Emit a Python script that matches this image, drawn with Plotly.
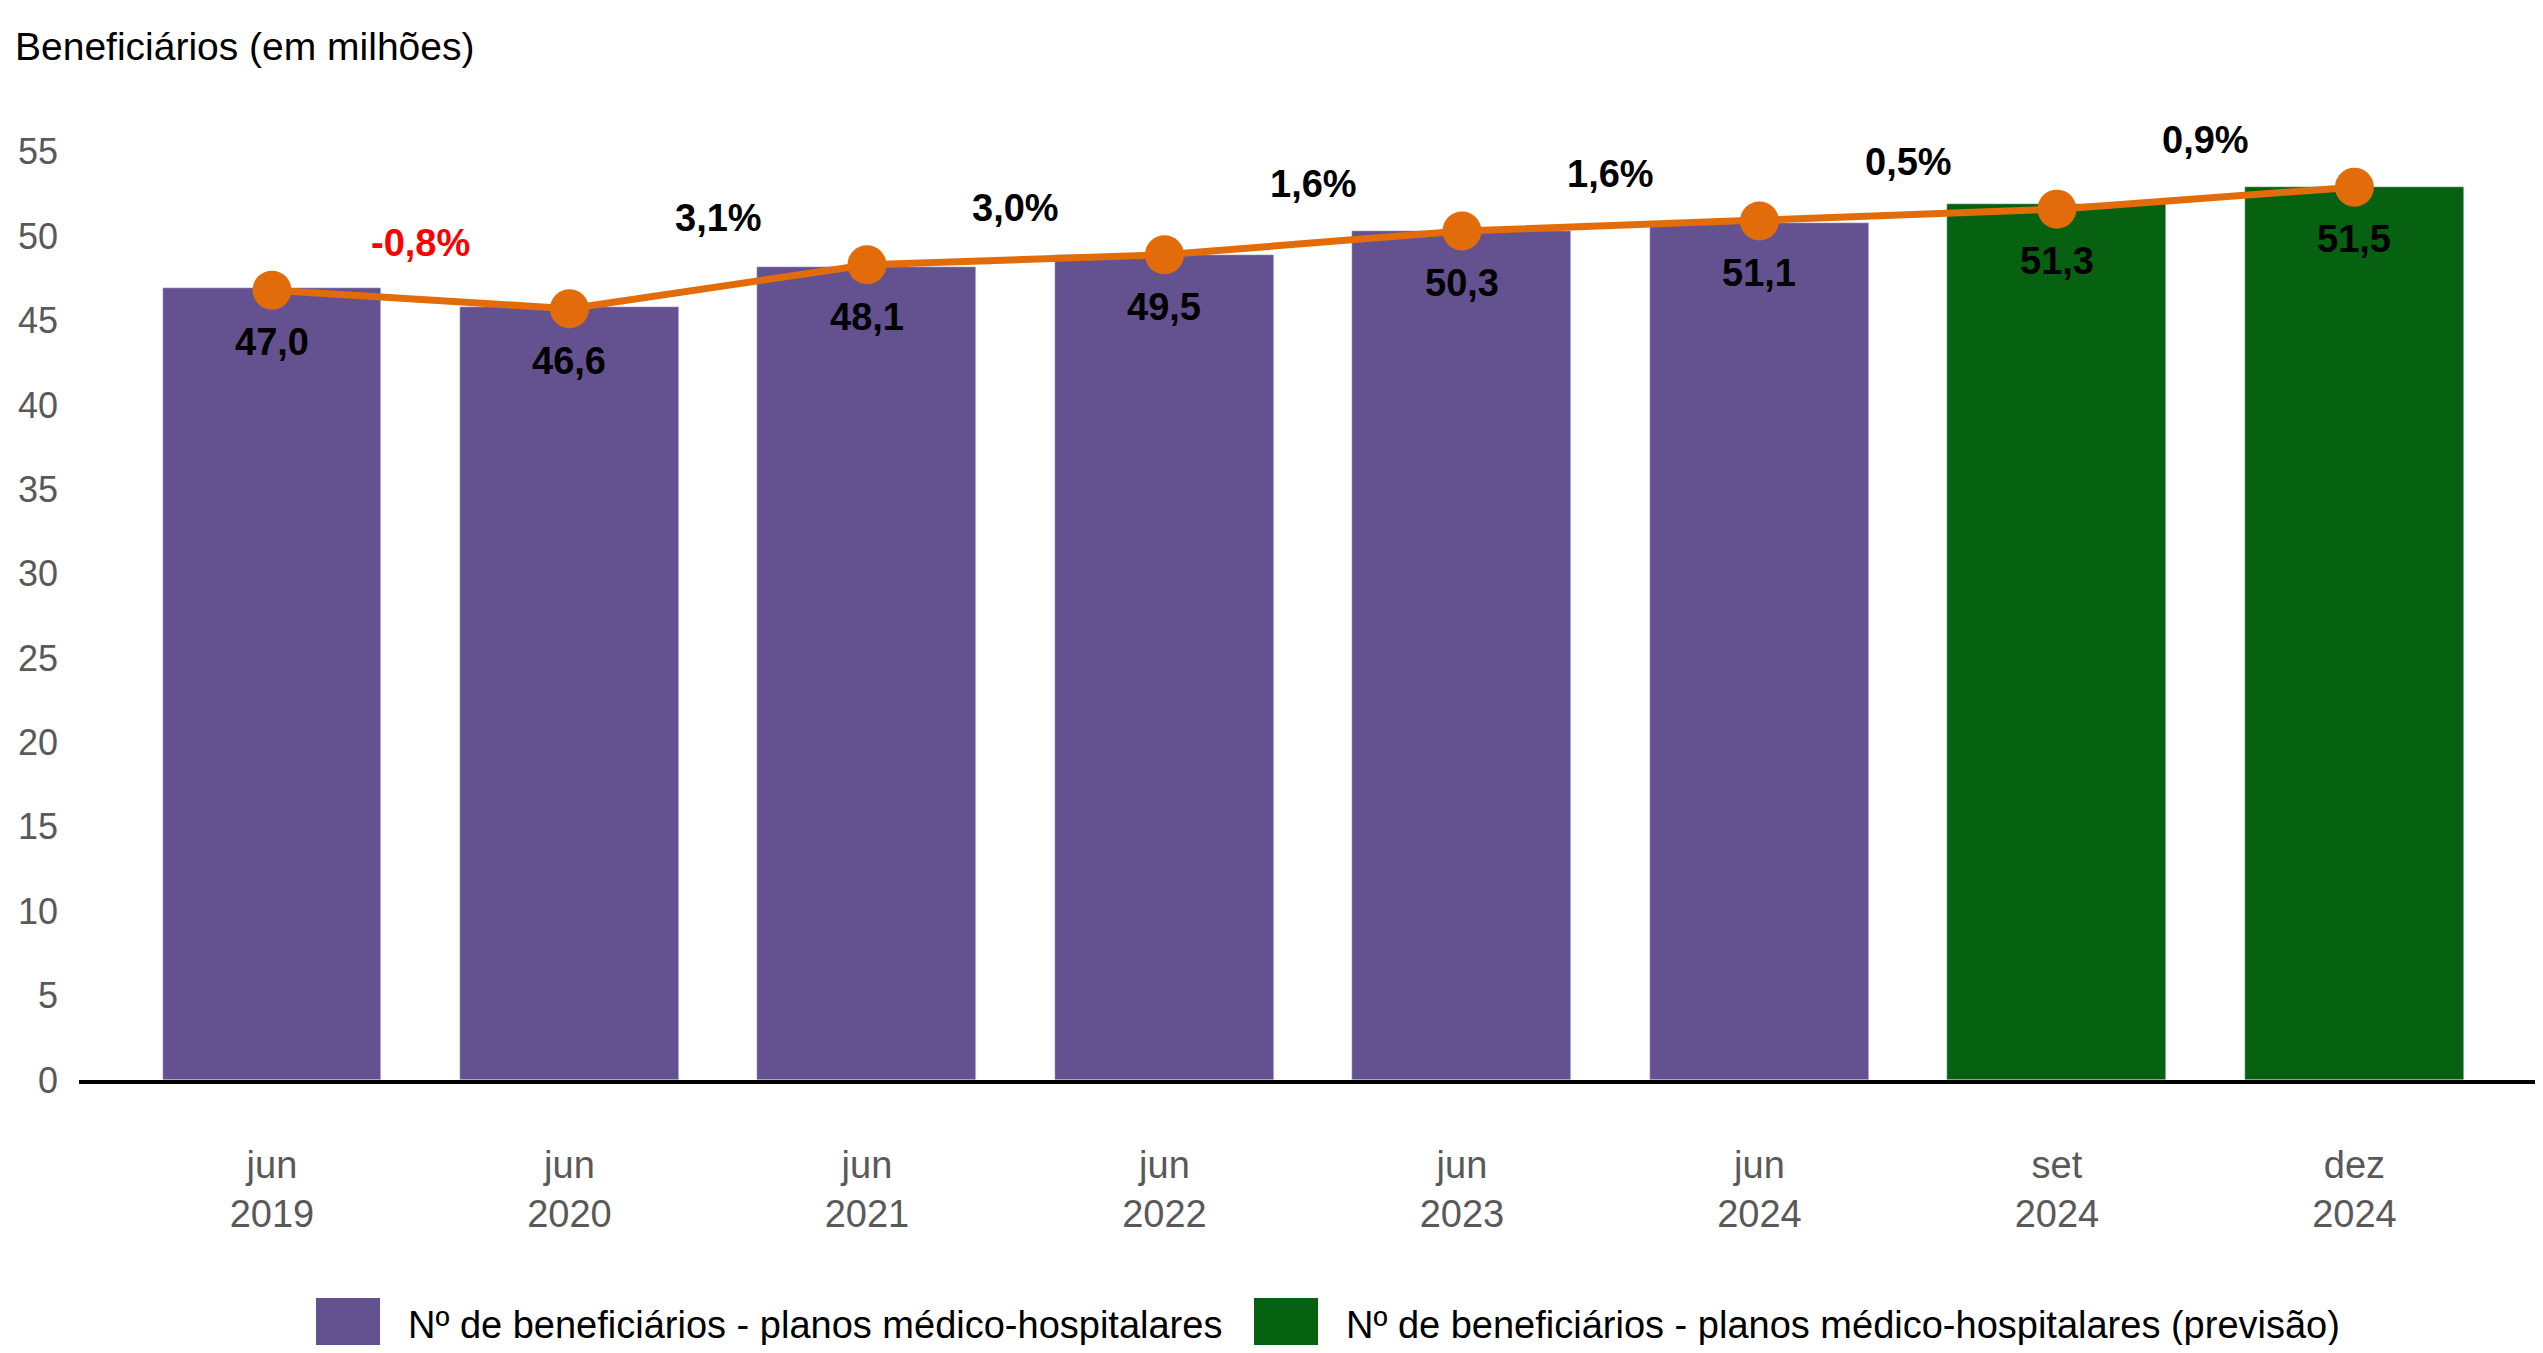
"""
Beneficiários de planos médico-hospitalares — barras + linha de variação.
"""
import plotly.graph_objects as go

periods = ['jun<br>2019', 'jun<br>2020', 'jun<br>2021', 'jun<br>2022',
           'jun<br>2023', 'jun<br>2024', 'set<br>2024', 'dez<br>2024']
bar_values = [46.9, 45.8, 48.15, 48.9, 50.3, 50.8, 51.9, 52.9]
line_values = [46.8, 45.7, 48.3, 48.9, 50.3, 50.9, 51.6, 52.9]
value_labels = ['47,0', '46,6', '48,1', '49,5', '50,3', '51,1', '51,3', '51,5']
is_forecast = [False, False, False, False, False, False, True, True]
pct_change = [-0.8, 3.1, 3.0, 1.6, 1.6, 0.5, 0.9]

PURPLE = '#64518F'
GREEN = '#066111'
ORANGE = '#E36C0A'
FONT = 'Liberation Sans, Arial, sans-serif'

# page body has an 8px margin, so the figure is a bit smaller than the window
OFF = 8
W, H = 2543 - 2 * OFF, 1353 - 2 * OFF
ML, MR, MT, MB = 71, 0, 110, 265
PW, PH = W - ML - MR, H - MT - MB


def px_x(p):
    # screen pixel -> paper x
    return (p - OFF - ML) / PW


def px_y(p):
    # screen pixel -> paper y
    return (H - MB - (p - OFF)) / PH


xs = list(range(len(periods)))
hist_x = [x for x, f in zip(xs, is_forecast) if not f]
prev_x = [x for x, f in zip(xs, is_forecast) if f]

fig = go.Figure()
fig.add_trace(go.Bar(
    x=hist_x, y=[bar_values[i] for i in hist_x], width=0.736,
    marker_color=PURPLE, showlegend=False, hoverinfo='skip',
))
fig.add_trace(go.Bar(
    x=prev_x, y=[bar_values[i] for i in prev_x], width=0.736,
    marker_color=GREEN, showlegend=False, hoverinfo='skip',
))
fig.add_trace(go.Scatter(
    x=xs, y=line_values, mode='lines+markers',
    line=dict(color=ORANGE, width=7),
    marker=dict(color=ORANGE, size=39),
    showlegend=False, hoverinfo='skip',
))

# rótulos de valor abaixo dos marcadores
for x, y, lab in zip(xs, line_values, value_labels):
    fig.add_annotation(x=x, y=y, yshift=-52, text=lab, showarrow=False,
                       yanchor='middle',
                       font=dict(family=FONT, size=38, weight='bold', color='black'))

# variação percentual entre períodos
for i, p in enumerate(pct_change):
    txt = f'{p:.1f}%'.replace('.', ',')
    fig.add_annotation(
        x=i + 0.5, y=max(line_values[i], line_values[i + 1]),
        yshift=47, text=txt, showarrow=False, yanchor='middle',
        font=dict(family=FONT, size=38, weight='bold',
                  color='#FF0000' if p < 0 else 'black'),
    )

# legenda manual (quadrados grandes)
legend_items = [
    (PURPLE, 'Nº de beneficiários - planos médico-hospitalares', 316, 406),
    (GREEN, 'Nº de beneficiários - planos médico-hospitalares (previsão)', 1254, 1344),
]
for color, label, sq_x, tx_x in legend_items:
    fig.add_shape(type='rect', xref='paper', yref='paper',
                  x0=px_x(sq_x), x1=px_x(sq_x + 64),
                  y0=px_y(1360), y1=px_y(1298),
                  fillcolor=color, line_width=0)
    fig.add_annotation(xref='paper', yref='paper', x=px_x(tx_x), y=px_y(1325),
                       xanchor='left', yanchor='middle', showarrow=False,
                       text=label, font=dict(family=FONT, size=38, color='black'))

fig.update_layout(
    width=W, height=H,
    margin=dict(l=ML, r=MR, t=MT, b=MB),
    paper_bgcolor='white', plot_bgcolor='white',
    font=dict(family=FONT, color='#595959'),
    title=dict(text='Beneficiários (em milhões)', x=(15 - OFF) / W, xanchor='left',
               xref='container', yref='container', y=1 - (46 - OFF) / H,
               yanchor='middle', font=dict(family=FONT, size=39, color='black')),
    bargap=0,
)
fig.update_xaxes(
    range=[-0.6487, 7.607], tickvals=xs, ticktext=periods,
    tickfont=dict(size=38, color='#595959'), ticklabelstandoff=48,
    showline=True, linecolor='black', linewidth=4,
    showgrid=False, zeroline=False, ticks='',
)
fig.update_yaxes(
    range=[0, 57], tickvals=list(range(0, 56, 5)),
    tickfont=dict(size=36, color='#595959'), ticklabelstandoff=20,
    showline=False, showgrid=False, zeroline=False, ticks='',
)

fig.write_html('out.html')
